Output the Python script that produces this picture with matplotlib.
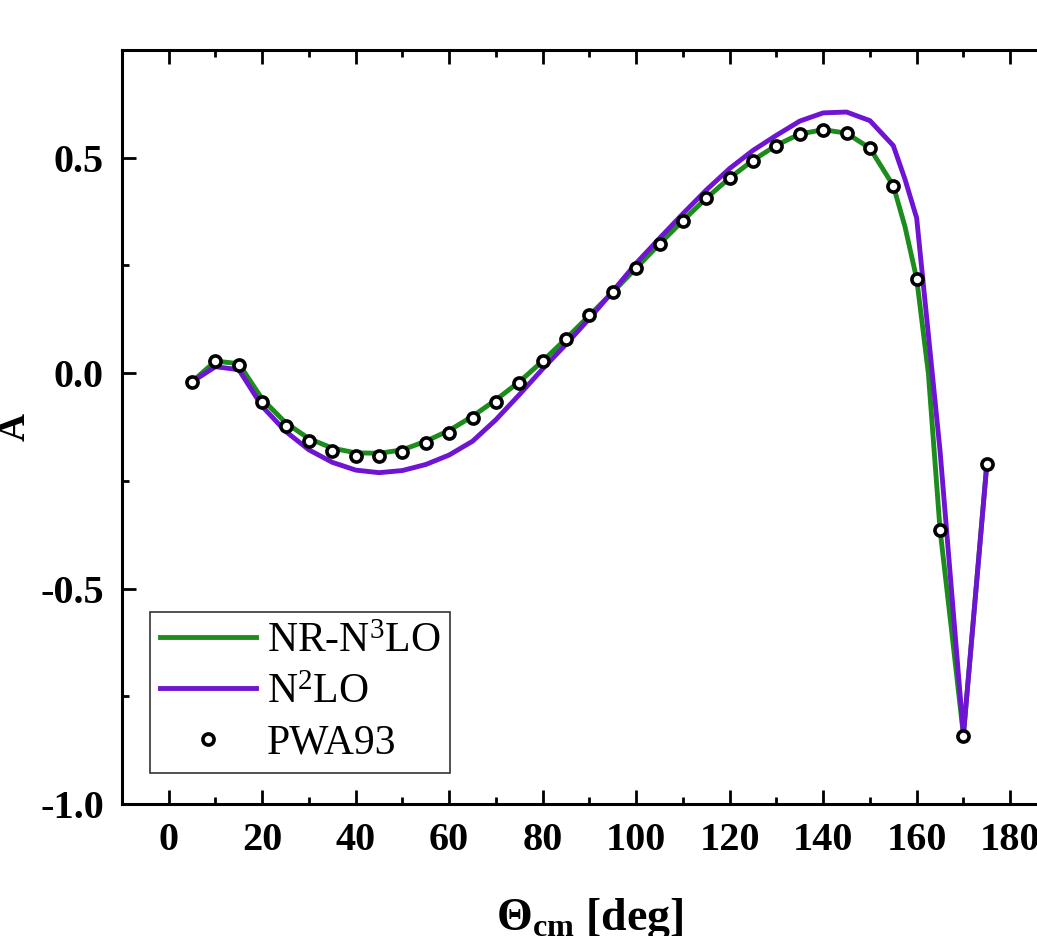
import matplotlib
matplotlib.use("Agg")
import matplotlib.pyplot as plt
from matplotlib.ticker import MultipleLocator

# ---------------- data ----------------
theta_nr = [5, 10, 15, 20, 25, 30, 35, 40, 45, 50, 55, 60, 65, 70, 75, 80, 85, 90,
            95, 100, 105, 110, 115, 120, 125, 130, 135, 140, 145, 150, 155, 157.5,
            160, 162.5, 165, 167.5, 170, 175]
a_nr_n3lo = [-0.02, 0.028, 0.022, -0.06, -0.115, -0.152, -0.174, -0.185, -0.186,
             -0.178, -0.158, -0.133, -0.100, -0.062, -0.020, 0.028, 0.080, 0.134,
             0.188, 0.244, 0.300, 0.354, 0.406, 0.453, 0.494, 0.529, 0.555, 0.565,
             0.557, 0.522, 0.435, 0.34, 0.219, 0.0, -0.363, -0.60, -0.84, -0.212]

theta_n2lo = [5, 10, 15, 20, 25, 30, 35, 40, 45, 50, 55, 60, 65, 70, 75, 80, 85, 90,
              95, 100, 105, 110, 115, 120, 125, 130, 135, 140, 145, 150, 155, 157.5,
              160, 162.5, 165, 167.5, 170, 175]
a_n2lo = [-0.02, 0.015, 0.008, -0.077, -0.135, -0.178, -0.207, -0.225, -0.231,
          -0.226, -0.212, -0.190, -0.158, -0.108, -0.050, 0.010, 0.067, 0.127,
          0.190, 0.255, 0.313, 0.370, 0.425, 0.475, 0.517, 0.552, 0.585, 0.604,
          0.606, 0.586, 0.528, 0.45, 0.360, 0.09, -0.18, -0.51, -0.84, -0.212]

theta_pwa = [5, 10, 15, 20, 25, 30, 35, 40, 45, 50, 55, 60, 65, 70, 75, 80, 85, 90,
             95, 100, 105, 110, 115, 120, 125, 130, 135, 140, 145, 150, 155, 160,
             165, 170, 175]
a_pwa93 = [-0.021, 0.028, 0.019, -0.067, -0.123, -0.158, -0.181, -0.193, -0.193,
           -0.184, -0.163, -0.140, -0.105, -0.067, -0.023, 0.028, 0.079, 0.135,
           0.188, 0.244, 0.300, 0.353, 0.407, 0.453, 0.493, 0.528, 0.556, 0.565,
           0.558, 0.523, 0.435, 0.219, -0.363, -0.842, -0.212]

x_ticks = [0, 20, 40, 60, 80, 100, 120, 140, 160, 180]
y_ticks = [-1.0, -0.5, 0.0, 0.5]
y_tick_labels = ['-1.0', '-0.5', '0.0', '0.5']

# ---------------- style ----------------
plt.rcParams['font.family'] = ['Liberation Serif', 'DejaVu Serif']
plt.rcParams['mathtext.fontset'] = 'custom'
plt.rcParams['mathtext.rm'] = 'Liberation Serif'
plt.rcParams['mathtext.it'] = 'Liberation Serif:italic'
plt.rcParams['mathtext.bf'] = 'Liberation Serif:bold'
plt.rcParams['axes.unicode_minus'] = False

GREEN = '#1c8c1c'
PURPLE = '#6e14d2'

fig = plt.figure(figsize=(10.37, 9.36), dpi=100)
ax = fig.add_axes([0.1176, 0.141, 0.9016, 0.8056])

ax.plot(theta_nr, a_nr_n3lo, color=GREEN, lw=3.5, label='NR-N$^\\mathregular{3}$LO',
        zorder=2)
ax.plot(theta_n2lo, a_n2lo, color=PURPLE, lw=3.5, label='N$^\\mathregular{2}$LO',
        zorder=3)
ax.plot(theta_pwa, a_pwa93, ls='none', marker='o', ms=8, mew=2.6,
        mec='black', mfc='white', label='PWA93', zorder=4)

ax.set_xlim(-10, 190)
ax.set_ylim(-1.0, 0.75)
ax.set_xticks(x_ticks)
ax.set_yticks(y_ticks)
ax.set_yticklabels(y_tick_labels)
ax.xaxis.set_minor_locator(MultipleLocator(10))
ax.yaxis.set_minor_locator(MultipleLocator(0.25))

for sp in ax.spines.values():
    sp.set_linewidth(2.2)

ax.tick_params(which='both', direction='in', top=True, right=True, width=2.0)
ax.tick_params(which='major', length=10)
ax.tick_params(which='minor', length=5)
ax.tick_params(axis='x', which='major', pad=13, labelsize=29)
ax.tick_params(axis='y', which='major', pad=13, labelsize=29)
for lab in ax.get_xticklabels() + ax.get_yticklabels():
    lab.set_fontweight('bold')

ax.set_xlabel(r'$\mathbf{\Theta_{cm}}$ [deg]', fontsize=33, fontweight='bold')
ax.xaxis.set_label_coords(0.5, -0.122)
ax.set_ylabel('A', fontsize=28, fontweight='bold')
ax.yaxis.set_label_coords(-0.095, 0.5)

leg = ax.legend(loc='lower left', bbox_to_anchor=(0.03, 0.041), borderaxespad=0,
                fontsize=30, frameon=True, fancybox=False, edgecolor='black',
                handlelength=2.3, handletextpad=0.25, labelspacing=0.3,
                borderpad=0.25, numpoints=1)
leg.get_frame().set_linewidth(1.2)

fig.savefig('out.png', dpi=100)
